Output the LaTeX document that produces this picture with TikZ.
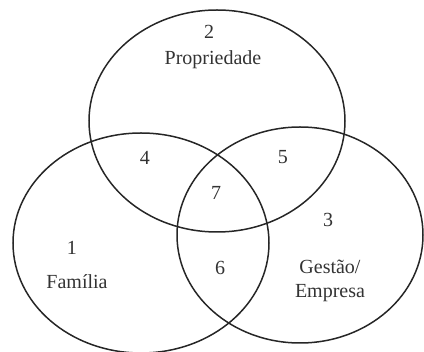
\documentclass[tikz,border=0pt]{standalone}
\usepackage{fontspec}
\setmainfont{Liberation Serif}
\usepackage{tikz}

\begin{document}
\begin{tikzpicture}[
  x=0.5pt, y=-0.5pt,
  set/.style={draw=black!85, line width=0.75pt},
  num/.style={font=\normalsize, text=black!80, inner sep=1pt},
  lab/.style={font=\normalsize, text=black!80, align=center, inner sep=1pt}
]
\useasboundingbox (0,0) rectangle (424,352);

% Sets
\draw[set] (217,121) ellipse [x radius=128, y radius=111];
\draw[set] (141,243) ellipse [x radius=128, y radius=110];
\draw[set] (300,235) ellipse [x radius=123, y radius=108];

% Propriedade
\node[num] (n2) at (209,32) {2};
\node[lab] (prop) at (213,60) {Propriedade};

% Familia
\node[num] (n1) at (72,248) {1};
\node[lab] (fam) at (77,282) {Família};

% Gestao / Empresa
\node[num] (n3) at (328,220) {3};
\node[lab] (gest) at (330,281) {Gestão/\\Empresa};

% Intersections
\node[num] (n4) at (145,158) {4};
\node[num] (n5) at (283,157) {5};
\node[num] (n6) at (220,268) {6};
\node[num] (n7) at (216,193) {7};

\end{tikzpicture}
\end{document}
